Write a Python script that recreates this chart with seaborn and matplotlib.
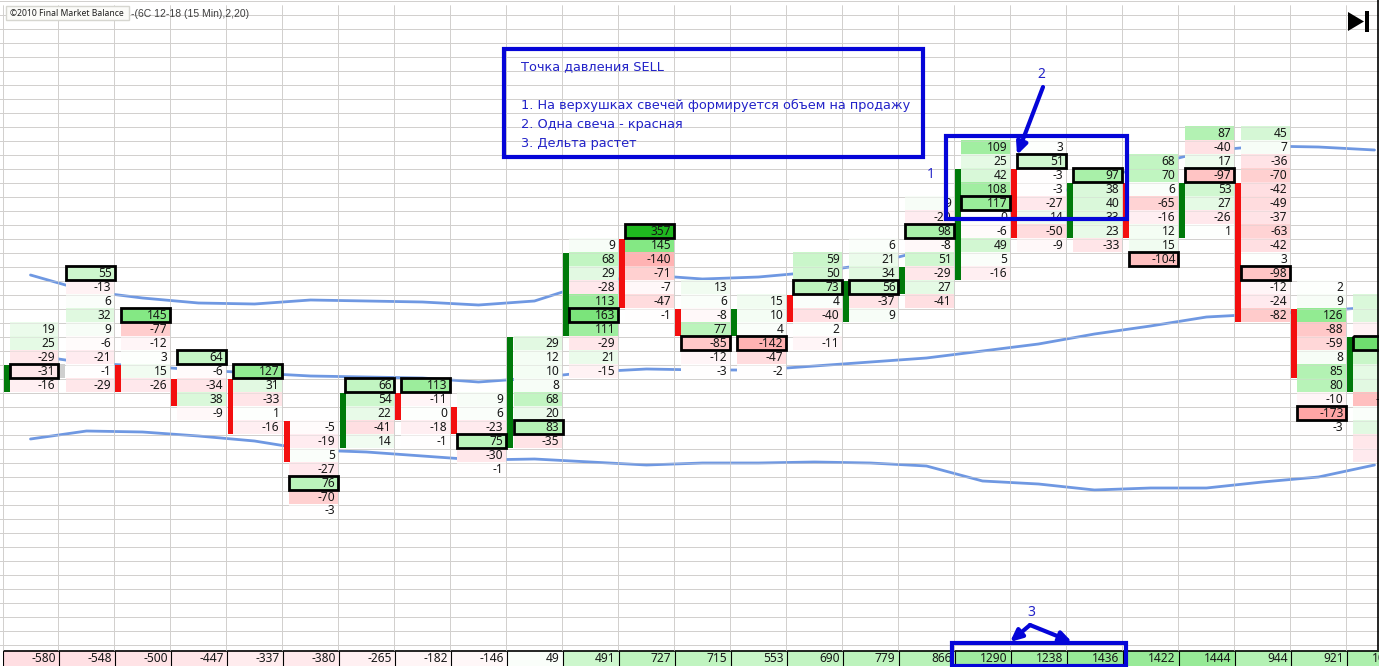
import numpy as np
import pandas as pd
import seaborn as sns
import matplotlib
matplotlib.use('Agg')
import matplotlib.pyplot as plt
from matplotlib.colors import LinearSegmentedColormap
from matplotlib.patches import Rectangle, Polygon

W, H = 1379, 667
COL_PX, ROW_PX, SUB_PX, X0 = 56, 14, 7, 2.5
SUBS = COL_PX // SUB_PX

# first (top) price row of every candle and the delta values going down from it
first_row = [23, 19, 22, 25, 26, 30, 27, 27, 28, 24, 17, 16, 20, 21, 18, 17, 14, 10, 10, 12, 11, 9, 9, 20, 21]
deltas = [
    [19, 25, -29, -31, -16],
    [55, -13, 6, 32, 9, -6, -21, -1, -29],
    [145, -77, -12, 3, 15, -26],
    [64, -6, -34, 38, -9],
    [127, 31, -33, 1, -16],
    [-5, -19, 5, -27, 76, -70, -3],
    [66, 54, 22, -41, 14],
    [113, -11, 0, -18, -1],
    [9, 6, -23, 75, -30, -1],
    [29, 12, 10, 8, 68, 20, 83, -35],
    [9, 68, 29, -28, 113, 163, 111, -29, 21, -15],
    [357, 145, -140, -71, -7, -47, -1],
    [13, 6, -8, 77, -85, -12, -3],
    [15, 10, 4, -142, -47, -2],
    [59, 50, 73, 4, -40, 2, -11],
    [6, 21, 34, 56, -37, 9],
    [9, -20, 98, -8, 51, -29, 27, -41],
    [109, 25, 42, 108, 117, 0, -6, 49, 5, -16],
    [3, 51, -3, -3, -27, 14, -50, -9],
    [97, 38, 40, 33, 23, -33],
    [68, 70, 6, -65, -16, 12, 15, -104],
    [87, -40, 17, -97, 53, 27, -26, 1],
    [45, 7, -36, -70, -42, -49, -37, -63, -42, 3, -98, -12, -24, -82],
    [2, 9, 126, -88, -59, 8, 85, 80, -10, -173, -3],
    [40, 35, -15, 190, 60, 25, 30, -110, 5, 30, -30, -25],
]
# row of the boxed (largest volume) cell
poc_row = [26, 19, 22, 25, 26, 34, 27, 27, 31, 30, 22, 16, 24, 24, 20, 20, 16, 14, 11, 12, 18, 12, 19, 29, 24]

# candle bodies: first row, last row, up or down
body_top = [26, 26, 27, 27, 30, 28, 28, 29, 24, 18, 17, 22, 22, 21, 20, 19, 12, 12, 13, 13, 13, 13, 22, 24]
body_bot = [27, 27, 28, 30, 32, 31, 29, 30, 31, 23, 21, 23, 23, 22, 22, 20, 19, 16, 16, 16, 16, 22, 26, 27]
body_col = [0, 2, 3, 4, 5, 6, 7, 8, 9, 10, 11, 12, 13, 14, 15, 16, 17, 18, 19, 20, 21, 22, 23, 24]
body_up = [1, 0, 0, 0, 0, 1, 0, 0, 1, 1, 0, 0, 1, 0, 1, 1, 1, 0, 1, 0, 1, 0, 0, 1]

# cumulative delta along the bottom
cum_delta = [-580, -548, -500, -447, -337, -380, -265, -182, -146, 49, 491, 727, 715, 553, 690, 779, 866,
             1290, 1238, 1436, 1422, 1444, 944, 921, 1065]

# bands, read in screen pixels at every candle centre
band_upper = [275, 291, 298, 303, 304, 300, 301, 302, 305, 301, 283, 275, 279, 277, 272, 264, 250, 225, 200, 180,
              165, 151, 146, 147, 150]
band_middle = [355, 363, 366, 370, 373, 376, 377, 378, 382, 378, 372, 369, 370, 370, 366, 362, 358, 351, 344, 334,
               326, 317, 314, 311, 307]
band_lower = [439, 431, 432, 436, 441, 450, 452, 456, 460, 459, 462, 465, 463, 463, 462, 463, 466, 481, 484, 490,
              488, 488, 482, 477, 465]

note_lines = ['Точка давления SELL', '1. На верхушках свечей формируется объем на продажу',
              '2. Одна свеча - красная', '3. Дельта растет']
note_y = [67, 105, 124, 143]


def make_cmap(stops, vmin, vmax):
    return LinearSegmentedColormap.from_list(
        'fmb', [((v - vmin) / (vmax - vmin), np.array(c) / 255) for v, c in stops])


def px(x, y):
    return (x - X0) / SUB_PX, y / ROW_PX


sns.set_style('white')
plt.rcParams['font.family'] = ['Noto Sans', 'DejaVu Sans']

n_rows = 48
cells = np.full((n_rows, len(deltas) * SUBS), np.nan)
for c, (top, vals) in enumerate(zip(first_row, deltas)):
    for i, v in enumerate(vals):
        cells[top + i, c * SUBS + 1:(c + 1) * SUBS] = v

main_cmap = make_cmap([(-400, (255, 120, 120)), (-173, (255, 165, 165)), (-70, (255, 208, 208)), (-20, (255, 236, 240)),
                       (0, (255, 255, 255)), (30, (226, 249, 226)), (70, (192, 245, 192)), (145, (132, 232, 132)),
                       (357, (32, 185, 32)), (400, (20, 170, 20))], -400, 400)
bottom_cmap = make_cmap([(-1500, (255, 190, 195)), (-580, (255, 222, 226)), (0, (255, 255, 255)), (491, (205, 247, 205)),
                         (1500, (148, 233, 148))], -1500, 1500)

fig = plt.figure(figsize=(W / 100, H / 100), dpi=100)
ax = fig.add_axes([0, 0, 1, 1])
sns.heatmap(cells, ax=ax, cmap=main_cmap, vmin=-400, vmax=400, cbar=False, xticklabels=False, yticklabels=False)
ax.collections[0].set_zorder(2)

# sheet grid under everything, faint again over the cells
grid_col = '#d2d0ce'
row_lines = np.arange(0, 47) + 0.5 / ROW_PX
col_lines = np.arange(len(deltas) + 1) * SUBS
ax.hlines(row_lines, -1, len(deltas) * SUBS, color=grid_col, lw=0.72, zorder=0.5)
ax.vlines(col_lines, 5 / ROW_PX, 650 / ROW_PX, color=grid_col, lw=0.72, zorder=0.5)
ax.hlines(row_lines, -1, len(deltas) * SUBS, color=grid_col, lw=0.72, alpha=0.4, zorder=2.2)
ax.vlines(col_lines, 5 / ROW_PX, 650 / ROW_PX, color=grid_col, lw=0.72, alpha=0.6, zorder=2.2)

centers = np.arange(len(deltas)) * SUBS + SUBS / 2
for band in [band_upper, band_middle, band_lower]:
    band_df = pd.DataFrame({'x': centers, 'y': np.array(band) / ROW_PX})
    sns.lineplot(data=band_df, x='x', y='y', ax=ax, color='#6f98e2', lw=2, errorbar=None, sort=False, zorder=1.5)

for c, top, bot, up in zip(body_col, body_top, body_bot, body_up):
    ax.bar(c * SUBS + 1 / SUB_PX, bot - top + 1 - 0.05, width=6 / SUB_PX, bottom=top + 0.05, align='edge',
           color='#007a0a' if up else '#f30f0f', edgecolor='none', linewidth=0, zorder=3)
# selection cursor next to the first candle
ax.bar(1 * SUBS, 1, width=1, bottom=26, align='edge', color='#cfcfcf', edgecolor='none', linewidth=0, zorder=3)

last = len(deltas) - 1
for c, (top, vals) in enumerate(zip(first_row, deltas)):
    for i, v in enumerate(vals):
        # the last column runs off the sheet, only long numbers reach into view
        if c == last and len(str(v)) < 4:
            continue
        ax.text((c + 1) * SUBS - 3 / SUB_PX, top + i + 0.5, str(v), ha='right', va='center', fontsize=8.6,
                color='#161616', zorder=5, clip_on=True)

for c, r in enumerate(poc_row):
    ax.add_patch(Rectangle((c * SUBS + 1, r), SUBS - 1, 1, fill=False, ec='black', lw=2, zorder=4, clip_on=True))

# notes in blue
blue = '#0505d8'
for (x0, y0, x1, y1) in [(504, 49, 923, 157), (946, 136, 1127, 219), (952, 643, 1126, 666)]:
    a, b = px(x0, y0), px(x1, y1)
    ax.add_patch(Rectangle(a, b[0] - a[0], b[1] - a[1], fill=False, ec=blue, lw=3, zorder=8))
for line, y in zip(note_lines, note_y):
    ax.text(*px(521, y), line, color='#2222c8', fontsize=9.3, va='center', family=['DejaVu Sans'], zorder=8)
for s, x, y in [('1', 931, 174), ('2', 1041, 74), ('3', 1031, 612)]:
    ax.text(*px(x, y), s, color='#2222c8', fontsize=10, ha='center', va='center', zorder=8)
for start, tip in [((1043, 87), (1017, 155)), ((1030, 625), (1010, 642)), ((1030, 625), (1072, 642))]:
    ax.annotate('', xy=px(*tip), xytext=px(*start), zorder=8,
                arrowprops=dict(arrowstyle='-|>,head_width=0.32,head_length=0.7', color=blue, lw=3,
                                shrinkA=0, shrinkB=0))

# corner label and next-bar button
a, b = px(6, 6), px(129, 20)
ax.add_patch(Rectangle(a, b[0] - a[0], b[1] - a[1], fc='#fbfbf8', ec='#d6d6d0', lw=1, zorder=6))
ax.text(*px(10, 13.5), '©2010 Final Market Balance', fontsize=6.2, color='#202020', va='center', zorder=7)
ax.text(*px(131, 13.5), '-(6C 12-18 (15 Min),2,20)', fontsize=7.5, color='#404040', va='center', zorder=5,
        family=['Liberation Sans'])
ax.add_patch(Polygon([px(1348, 12), px(1348, 31), px(1364, 21.5)], fc='black', ec='none', zorder=7))
a, b = px(1365, 11), px(1369, 32)
ax.add_patch(Rectangle(a, b[0] - a[0], b[1] - a[1], fc='black', ec='none', zorder=7))
ax.vlines(px(1378.2, 0)[0], 0, 650 / ROW_PX, color='black', lw=1.2, zorder=7)

ax.set_xlim(-X0 / SUB_PX, (W - X0) / SUB_PX)
ax.set_ylim(H / ROW_PX, 0)
ax.set_xlabel('')
ax.set_ylabel('')
ax.set_axis_off()

# cumulative delta strip
strip = fig.add_axes([X0 / W, 1 - 666 / H, (W - X0) / W, 15.5 / H], zorder=0.5)
sns.heatmap(np.array([cum_delta]), ax=strip, cmap=bottom_cmap, vmin=-1500, vmax=1500, cbar=False,
            xticklabels=False, yticklabels=False)
for c, v in enumerate(cum_delta):
    strip.text(c + 1 - 3 / COL_PX, 0.5, str(v), ha='right', va='center', fontsize=8.6, color='#161616', clip_on=True)
strip.vlines(np.arange(len(cum_delta) + 1), 0, 1, color='black', lw=0.8)
strip.hlines(0, 0, len(cum_delta), color='black', lw=1.2, clip_on=False)
strip.set_xlim(0, (W - X0) / COL_PX)
strip.set_ylim(1, 0)
strip.set_axis_off()
ax.set_zorder(1)
ax.patch.set_alpha(0)

fig.savefig('out.png', dpi=100)
